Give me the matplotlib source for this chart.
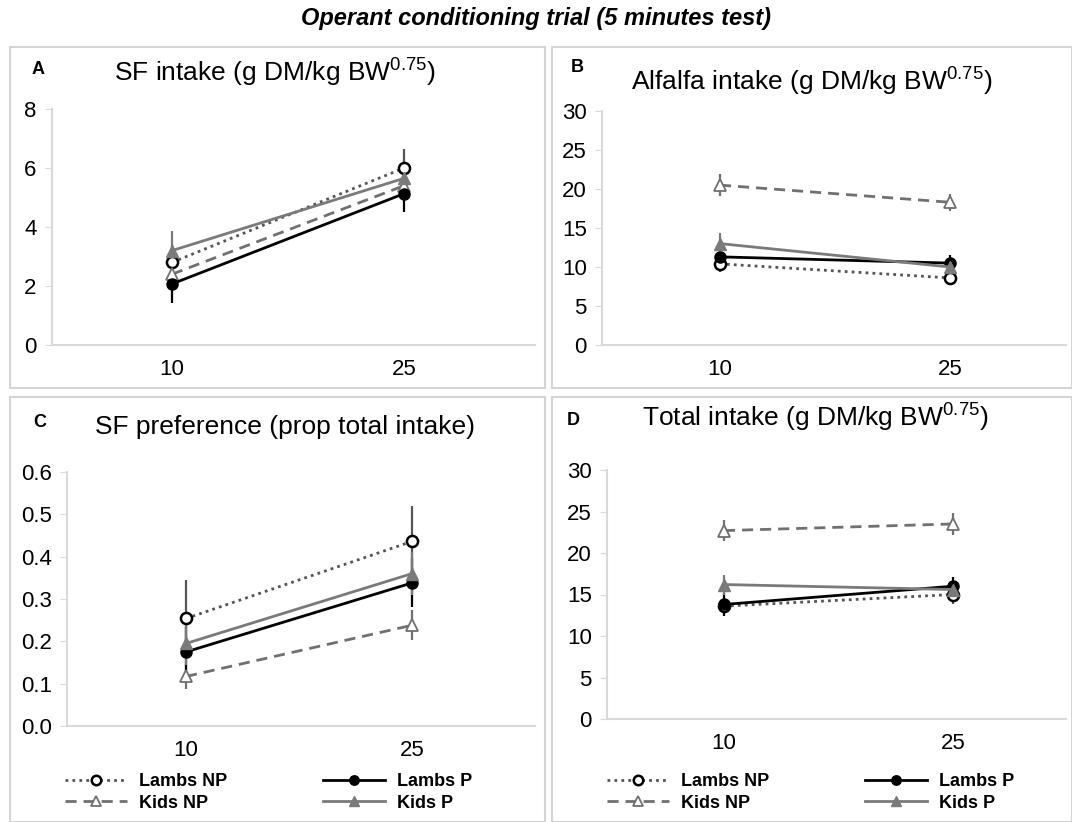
import matplotlib
matplotlib.use('Agg')
import matplotlib.pyplot as plt
from matplotlib.patches import Rectangle

plt.rcParams['font.family'] = ['Liberation Sans', 'DejaVu Sans']
plt.rcParams['mathtext.fontset'] = 'custom'
plt.rcParams['mathtext.rm'] = 'Liberation Sans'
plt.rcParams['mathtext.it'] = 'Liberation Sans:italic'

W, H = 1072, 822

doses = ['10', '25']
groups = ['Lambs NP', 'Kids NP', 'Lambs P', 'Kids P']

# panel A: SF intake
sf_lnp = [2.8, 6.0]
sf_knp = [2.4, 5.4]
sf_lp = [2.07, 5.13]
sf_kp = [3.2, 5.65]
sf_err = [[0.6, 0.65], [0.5, 0.5], [0.65, 0.63], [0.65, 0.55]]

# panel B: alfalfa intake
alf_lnp = [10.4, 8.6]
alf_knp = [20.5, 18.3]
alf_lp = [11.3, 10.5]
alf_kp = [13.0, 10.0]
alf_err = [[1.0, 0.9], [1.4, 1.1], [1.0, 1.0], [1.3, 1.0]]

# panel C: SF preference
pref_lnp = [0.254, 0.436]
pref_knp = [0.117, 0.238]
pref_lp = [0.175, 0.338]
pref_kp = [0.195, 0.36]
pref_err = [[0.092, 0.083], [0.03, 0.036], [0.06, 0.058], [0.05, 0.05]]

# panel D: total intake
tot_lnp = [13.6, 15.0]
tot_knp = [22.7, 23.5]
tot_lp = [13.8, 16.0]
tot_kp = [16.2, 15.6]
tot_err = [[1.0, 1.2], [1.3, 1.3], [1.4, 1.1], [1.2, 1.0]]

styles = [
    dict(color='#555555', ls=(0, (1, 1.5)), marker='o', mfc='white', mec='black', ms=8, mew=1.8),
    dict(color='#707070', ls=(0, (4, 2.5)), marker='^', mfc='white', mec='#707070', ms=8, mew=1.3),
    dict(color='black', ls='-', marker='o', mfc='black', mec='black', ms=8, mew=1),
    dict(color='#7a7a7a', ls='-', marker='^', mfc='#7a7a7a', mec='#7a7a7a', ms=8, mew=1),
]

fig = plt.figure(figsize=(W / 100, H / 100), dpi=100)


def px_axes(l, t, r, b):
    return fig.add_axes([l / W, 1 - b / H, (r - l) / W, (b - t) / H])


def frame(l, t, r, b):
    fig.patches.append(Rectangle((l / W, 1 - b / H), (r - l) / W, (b - t) / H,
                                 transform=fig.transFigure, fill=False,
                                 ec='#d4d4d4', lw=1.5))


def panel(ax, series, errs, ylim, yticks, fmt, x10, x25, xl, xr):
    step = x25 - x10
    lines = []
    for vals, err, st in zip(series, errs, styles):
        cont = ax.errorbar([0, 1], vals, yerr=err, color=st['color'], ls=st['ls'], lw=2,
                           marker=st['marker'], mfc=st['mfc'], mec=st['mec'], ms=st['ms'],
                           mew=st['mew'], elinewidth=1.6, capsize=0)
        lines.append(cont[0])
    ax.set_xlim((xl - x10) / step, (xr - x10) / step)
    ax.set_ylim(*ylim)
    ax.set_yticks(yticks)
    ax.set_yticklabels([fmt.format(v) for v in yticks])
    ax.set_xticks([0, 1])
    ax.set_xticklabels(doses)
    for s in ['top', 'right']:
        ax.spines[s].set_visible(False)
    for s in ['left', 'bottom']:
        ax.spines[s].set_color('#d9d9d9')
        ax.spines[s].set_linewidth(1.5)
    ax.tick_params(axis='y', length=5, color='#d9d9d9', labelsize=16, pad=6)
    ax.tick_params(axis='x', length=0, labelsize=16, pad=10)
    ax.patch.set_alpha(0)
    return lines


frame(10, 47, 545, 388)
frame(552, 47, 1072, 388)
frame(10, 397, 545, 822)
frame(552, 397, 1072, 822)

axA = px_axes(52, 109, 535, 345)
panel(axA, [sf_lnp, sf_knp, sf_lp, sf_kp], sf_err, (0, 8), [0, 2, 4, 6, 8], '{:g}',
      172, 404, 52, 535)
axB = px_axes(602, 111, 1066, 345)
panel(axB, [alf_lnp, alf_knp, alf_lp, alf_kp], alf_err, (0, 30), [0, 5, 10, 15, 20, 25, 30], '{:g}',
      720, 950, 602, 1066)
axC = px_axes(67, 472, 535, 726)
linesC = panel(axC, [pref_lnp, pref_knp, pref_lp, pref_kp], pref_err, (0, 0.6),
               [0, 0.1, 0.2, 0.3, 0.4, 0.5, 0.6], '{:.1f}', 186, 412, 67, 535)
axD = px_axes(607, 470, 1066, 719)
linesD = panel(axD, [tot_lnp, tot_knp, tot_lp, tot_kp], tot_err, (0, 30), [0, 5, 10, 15, 20, 25, 30], '{:g}',
               724, 953, 607, 1066)

for ax, lines, x0 in [(axC, linesC, 58), (axD, linesD, 600)]:
    ax.legend(lines, groups, ncol=2, loc='upper left', frameon=False,
              bbox_to_anchor=(x0 / W, 1 - 766 / H),
              bbox_transform=fig.transFigure, handlelength=3.4, handletextpad=0.7,
              columnspacing=5.3, labelspacing=0.25, borderaxespad=0, markerscale=0.85,
              prop={'weight': 'bold', 'size': 13})

fig.text(0.5, 1 - 18 / H, 'Operant conditioning trial (5 minutes test)', ha='center', va='center',
         fontsize=17, fontweight='bold', fontstyle='italic')

fig.text(275 / W, 1 - 73 / H, r'SF intake (g DM/kg BW$^{0.75}$)', ha='center', va='center', fontsize=19)
fig.text(812 / W, 1 - 82 / H, r'Alfalfa intake (g DM/kg BW$^{0.75}$)', ha='center', va='center', fontsize=19)
fig.text(285 / W, 1 - 427 / H, 'SF preference (prop total intake)', ha='center', va='center', fontsize=19)
fig.text(815 / W, 1 - 418 / H, r'Total intake (g DM/kg BW$^{0.75}$)', ha='center', va='center', fontsize=19)

for lab, x, y in [('A', 38, 70), ('B', 577, 68), ('C', 40, 422), ('D', 573, 420)]:
    fig.text(x / W, 1 - y / H, lab, ha='center', va='center', fontsize=13, fontweight='bold')

fig.savefig('out.png', dpi=100)
